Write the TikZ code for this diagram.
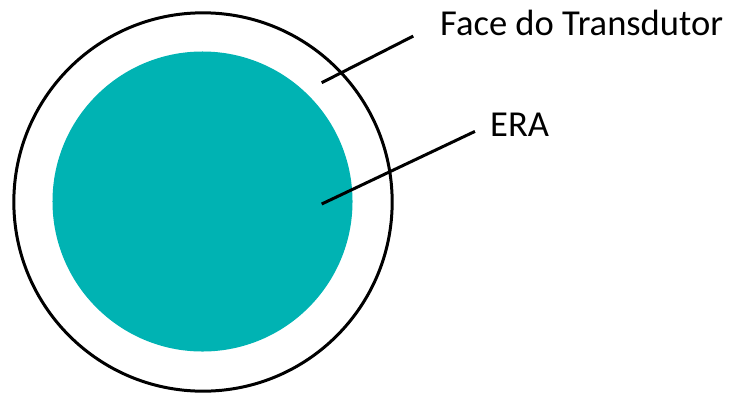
\documentclass[tikz,border=0pt]{standalone}
\usepackage{fontspec}
\setmainfont{Carlito}
\usepackage{xcolor}
\usepackage{tikz}
\usetikzlibrary{positioning}
\definecolor{eraTeal}{HTML}{00B3B3}

\begin{document}
\begin{tikzpicture}[x=0.03cm, y=-0.03cm,
  ring/.style={draw, line width=0.09cm, circle, inner sep=0pt, minimum size=11.35cm},
  disk/.style={fill=eraTeal, circle, inner sep=0pt, minimum size=9cm},
  lbl/.style={inner sep=0pt, anchor=base west, font=\fontsize{31.2}{37}\selectfont},
  lead/.style={line width=0.09cm}]
\useasboundingbox (0,0) rectangle (737,392);
\node[ring] (faceRing) at (203,202) {};
\node[disk] (eraDisk) at (202.5,201.5) {};
\node[lbl] (faceLbl) at (440,35) {Face do Transdutor};
\node[lbl] (eraLbl) at (490,136) {ERA};
\coordinate (faceTip) at (321.7,82.7);
\coordinate (eraTip) at (321.7,204);
\draw[lead, shorten >=0.9cm] (faceTip) -- (faceLbl.west);
\draw[lead, shorten >=0.5cm] (eraTip) -- (eraLbl.west);
\end{tikzpicture}
\end{document}
